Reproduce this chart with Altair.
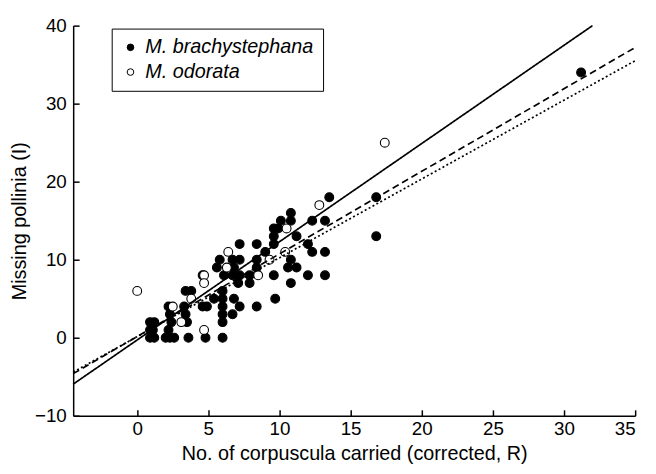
import altair as alt
import pandas as pd

species = ["M. brachystephana", "M. odorata"]

brachy_x = [31.2, 16.8, 16.8, 13.5, 12.3, 13.2, 13.2, 13.2, 12.0, 12.3, 12.0, 11.2, 10.8, 10.8,
            10.1, 9.6, 9.6, 9.6, 8.4, 9.0, 8.4, 11.2, 10.8, 9.6, 10.8, 7.9, 7.9, 7.2, 5.8, 6.7,
            7.2, 5.6, 6.8, 8.4, 4.6, 6.1, 6.7, 7.2, 7.1, 6.0, 3.4, 3.8, 6.0, 6.8, 5.4, 7.2,
            8.4, 4.6, 4.9, 2.2, 3.3, 3.4, 6.0, 6.0, 6.7, 2.3, 2.4, 3.5, 6.0, 1.2, 1.1, 1.2,
            0.9, 0.9, 2.2, 2.3, 2.6, 3.6, 4.8, 6.0, 9.7, 0.9, 2.0, 9.9, 10.6]
brachy_y = [34, 18, 13, 18, 15, 15, 11, 8, 8, 11, 12, 13, 16, 15,
            15, 14, 13, 12, 12, 11, 10, 9, 10, 8, 7, 8, 7, 12, 10, 10,
            10, 9, 9, 9, 8, 8, 8, 8, 7, 6, 6, 6, 5, 5, 5, 4,
            4, 4, 4, 4, 4, 3, 4, 3, 3, 3, 2, 2, 2, 2, 1, 0,
            1, 0, 1, 0, 0, 0, 0, 0, 5, 2, 0, 14, 9]

odorata_x = [0.0, 17.4, 12.8, 10.5, 9.3, 10.4, 8.5, 6.4, 6.3, 4.7, 3.8, 2.5, 3.1, 4.7, 4.7]
odorata_y = [6, 25, 17, 14, 10, 11, 8, 11, 9, 8, 5, 4, 2, 1, 7]

fit_names = ["solid", "dashed", "dotted"]
fit_x0 = [-4.5, -4.5, -4.5]
fit_y0 = [-5.95, -4.6, -4.4]
fit_x1 = [32.0, 35.0, 35.0]
fit_y1 = [40.0, 37.2, 35.5]

x_ticks = [0, 5, 10, 15, 20, 25, 30, 35]
y_ticks = [-10, 0, 10, 20, 30, 40]

pts = pd.DataFrame({
    "species": [species[0]] * len(brachy_x) + [species[1]] * len(odorata_x),
    "x": brachy_x + odorata_x,
    "y": brachy_y + odorata_y,
})
pts["order"] = range(len(pts))

rows = []
for n, a, b, c, d in zip(fit_names, fit_x0, fit_y0, fit_x1, fit_y1):
    rows.append({"fit": n, "x": a, "y": b})
    rows.append({"fit": n, "x": c, "y": d})
lines = pd.DataFrame(rows)

FONT = "Liberation Sans"
W, H = 569, 395
xscale = alt.Scale(domain=[-4.5, 35], nice=False, zero=False)
yscale = alt.Scale(domain=[-10, 40], nice=False, zero=False)

points = alt.Chart(pts).mark_point(
    shape="circle", filled=True, size=80, stroke="black", strokeWidth=1.1, opacity=1
).encode(
    x=alt.X("x:Q", scale=xscale, axis=alt.Axis(
        orient="bottom", values=x_ticks, ticks=False, tickSize=0, labelPadding=4, grid=False,
        domainColor="black", domainWidth=1.5, labelFont=FONT, labelFontSize=19, labelColor="black",
        title="No. of corpuscula carried (corrected, R)", titleFont=FONT, titleFontSize=20,
        titleFontWeight="normal", titleColor="black", titlePadding=5)),
    y=alt.Y("y:Q", scale=yscale, axis=alt.Axis(
        orient="left", values=y_ticks, ticks=False, tickSize=0, labelPadding=7, grid=False,
        domainColor="black", domainWidth=1.5, labelFont=FONT, labelFontSize=19, labelColor="black",
        title="Missing pollinia (I)", titleFont=FONT, titleFontSize=20,
        titleFontWeight="normal", titleColor="black", titlePadding=5)),
    fill=alt.Fill("species:N", scale=alt.Scale(domain=species, range=["black", "white"]),
                  legend=alt.Legend(
                      title=None, orient="none", legendX=39, legendY=3,
                      labelFont=FONT, labelFontSize=20, labelFontStyle="italic", labelColor="black",
                      labelLimit=0,
                      symbolType="circle", symbolSize=45, symbolStrokeColor="black",
                      symbolStrokeWidth=1, symbolOpacity=1, strokeColor="black", fillColor="white",
                      padding=9, rowPadding=5, labelOffset=5, cornerRadius=0)),
    order=alt.Order("order:Q"),
)

fits = alt.Chart(lines).mark_line(color="black", strokeWidth=1.7).encode(
    x=alt.X("x:Q", scale=xscale, axis=alt.Axis(
        orient="top", offset=-H, values=x_ticks, labels=False, domain=False, ticks=True,
        tickSize=6, tickWidth=1.5, tickColor="black", grid=False, title=None)),
    y=alt.Y("y:Q", scale=yscale, axis=alt.Axis(
        orient="right", offset=-W, values=y_ticks, labels=False, domain=False, ticks=True,
        tickSize=6, tickWidth=1.5, tickColor="black", grid=False, title=None)),
    detail="fit:N",
    strokeDash=alt.StrokeDash("fit:N", scale=alt.Scale(domain=fit_names,
                                                        range=[[1, 0], [7, 4], [2, 2.5]]),
                              legend=None),
)

chart = alt.layer(points, fits).resolve_axis(x="independent", y="independent").properties(
    width=W, height=H,
    padding={"left": 66, "top": 15, "right": 13, "bottom": 46},
    autosize=alt.AutoSizeParams(type="none"),
).configure_view(stroke=None)

chart.save("out.html", embed_options={"renderer": "svg", "actions": False})
